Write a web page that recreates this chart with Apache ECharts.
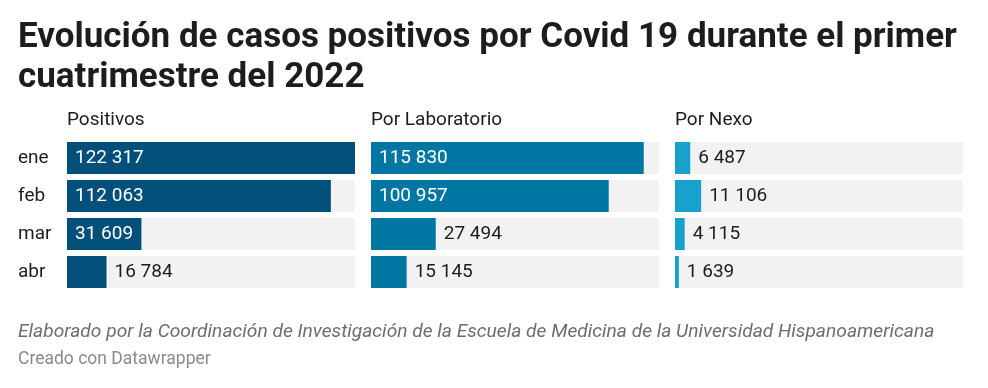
<!DOCTYPE html>
<html><head><meta charset="utf-8">
<script src="https://cdn.jsdelivr.net/npm/echarts@6/dist/echarts.min.js"></script>
<style>html,body{margin:0;padding:0;background:#fff}#c{width:988px;height:388px}</style>
</head><body><div id="c"></div>
<script>
const categories = ['ene','feb','mar','abr'];
const panelTitles = ['Positivos','Por Laboratorio','Por Nexo'];
const positivos = [122317, 112063, 31609, 16784];
const laboratorio = [115830, 100957, 27494, 15145];
const nexo = [6487, 11106, 4115, 1639];
const colors = ['#00507a', '#0077a2', '#18a1cd'];

const seriesData = [positivos, laboratorio, nexo];
const maxVal = Math.max(...positivos, ...laboratorio, ...nexo);
const fmt = v => String(v).replace(/\B(?=(\d{3})+(?!\d))/g, ' ');
const lefts = [67, 371, 675];
const W = 288;

const chart = echarts.init(document.getElementById('c'));
const grids = [], xAxes = [], yAxes = [], series = [], titles = [];
titles.push({text:'Evolución de casos positivos por Covid 19 durante el primer\ncuatrimestre del 2022', left:18, top:18, padding:0,
  textStyle:{fontFamily:'Roboto', fontWeight:'bold', fontSize:35, color:'#1d1d1d', lineHeight:40}});
lefts.forEach((l,i)=>{
  grids.push({left:l, width:W, top:139, height:152});
  xAxes.push({type:'value', gridIndex:i, min:0, max:maxVal, show:false});
  yAxes.push({type:'category', gridIndex:i, data:categories, inverse:true,
    axisLine:{show:false}, axisTick:{show:false}, splitLine:{show:false},
    axisLabel:{show:i===0, align:'left', margin:49, fontFamily:'Roboto', fontSize:19, color:'#1d1d1d'}});
  titles.push({text:panelTitles[i], left:l, top:111, padding:0, textStyle:{fontFamily:'Roboto', fontWeight:'normal', fontSize:19, color:'#1d1d1d'}});
  series.push({type:'bar', xAxisIndex:i, yAxisIndex:i, barWidth:32, showBackground:true,
    backgroundStyle:{color:'#f2f2f2'}, itemStyle:{color:colors[i]}, animation:false,
    data: seriesData[i].map(v=>{
      const inside = v/maxVal > 0.24;
      return {value:v, label:{show:true, position: inside?'insideLeft':'right', distance:8,
        color: inside?'#ffffff':'#1d1d1d', fontFamily:'Roboto', fontSize:19, formatter: fmt(v)}};
    })});
});
titles.push({text:'Elaborado por la Coordinación de Investigación de la Escuela de Medicina de la Universidad Hispanoamericana', left:18, top:323, padding:0,
  textStyle:{fontFamily:'Roboto', fontStyle:'italic', fontWeight:'normal', fontSize:19.2, color:'#6d6d6d'}});
titles.push({text:'Creado con Datawrapper', left:18, top:351, padding:0,
  textStyle:{fontFamily:'Roboto', fontWeight:'normal', fontSize:17.5, color:'#8a8a8a'}});
chart.setOption({title:titles, grid:grids, xAxis:xAxes, yAxis:yAxes, series:series, animation:false});
</script></body></html>
